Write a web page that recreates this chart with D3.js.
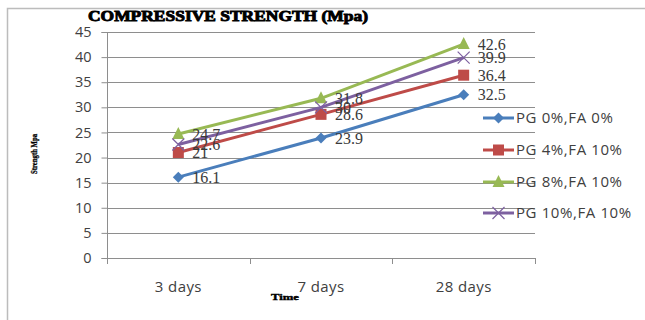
<!DOCTYPE html>
<html><head><meta charset="utf-8">
<script src="https://cdn.jsdelivr.net/npm/d3@7"></script>
<style>body{margin:0;background:#fff}svg{display:block}</style>
</head><body><svg id="c" width="645" height="320"></svg>
<script>
const categories = ["3 days", "7 days", "28 days"];
const seriesNames = ["PG 0%,FA 0%", "PG 4%,FA 10%", "PG 8%,FA 10%", "PG 10%,FA 10%"];
const s1 = [16.1, 23.9, 32.5];
const s2 = [21, 28.6, 36.4];
const s3 = [24.7, 31.8, 42.6];
const s4 = [22.6, 30, 39.9];
const yTicks = [0, 5, 10, 15, 20, 25, 30, 35, 40, 45];
const colors = ["#4a7ebb", "#be4b48", "#98b954", "#7d60a0"];
const shapes = ["diamond", "square", "triangle", "x"];
const seriesValues = [s1, s2, s3, s4];

const svg = d3.select("#c");
const L = 107, R = 535, T = 32, B = 258;
const x = d3.scaleBand().domain(categories).range([L, R]);
const y = d3.scaleLinear().domain([0, 45]).range([B, T]);
const sans = "'Open Sans', Lato, sans-serif";

// outer border
svg.append("path").attr("d", "M7.5,320 V8.5 H645").attr("fill", "none").attr("stroke", "#bcbcbc").attr("stroke-width", 1.5);

// gridlines
svg.append("g").selectAll("line").data(yTicks.filter(d => d > 0)).join("line")
  .attr("x1", L).attr("x2", R).attr("y1", d => Math.round(y(d)) + 0.5).attr("y2", d => Math.round(y(d)) + 0.5)
  .attr("stroke", "#8e8e8e").attr("stroke-width", 1);

// y axis
const ya = svg.append("g").attr("transform", `translate(${L + 0.5},0)`)
  .call(d3.axisLeft(y).tickValues(yTicks).tickSize(6).tickPadding(10));
ya.select(".domain").attr("stroke", "#8e8e8e").attr("d", `M-6,${B + 0.5}H0V${T + 0.5}H-6`);
ya.selectAll(".tick line").attr("stroke", "#8e8e8e");
ya.selectAll(".tick text").attr("font-family", sans).attr("font-size", 14.5).attr("fill", "#404040");

// x axis
const xa = svg.append("g").attr("transform", `translate(0,${B + 0.5})`)
  .call(d3.axisBottom(x).tickSize(0).tickPadding(23));
xa.select(".domain").attr("stroke", "#8e8e8e").attr("d", `M${L},0H${R}`);
xa.selectAll(".tick text").attr("font-family", sans).attr("font-size", 15).attr("letter-spacing", 0.4).attr("fill", "#404040");
const bounds = [L, ...categories.map(c => x(c) + x.bandwidth())];
svg.append("g").selectAll("line").data(bounds).join("line")
  .attr("x1", d => Math.round(d) + 0.5).attr("x2", d => Math.round(d) + 0.5)
  .attr("y1", B).attr("y2", B + 6).attr("stroke", "#8e8e8e");

function marker(g, shape, color, cx, cy, s) {
  if (shape === "diamond") {
    g.append("path").attr("d", `M${cx},${cy - s}L${cx + s},${cy}L${cx},${cy + s}L${cx - s},${cy}Z`).attr("fill", color);
  } else if (shape === "square") {
    g.append("rect").attr("x", cx - s).attr("y", cy - s).attr("width", 2 * s).attr("height", 2 * s).attr("fill", color);
  } else if (shape === "triangle") {
    g.append("path").attr("d", `M${cx},${cy - s - 1}L${cx + s},${cy + s - 1}L${cx - s},${cy + s - 1}Z`).attr("fill", color);
  } else {
    g.append("path").attr("d", `M${cx - s},${cy - s}L${cx + s},${cy + s}M${cx - s},${cy + s}L${cx + s},${cy - s}`)
      .attr("stroke", color).attr("stroke-width", 1.2).attr("fill", "none");
  }
}

const line = d3.line().x((d, i) => x(categories[i]) + x.bandwidth() / 2).y(d => y(d));
const sizes = [5.5, 5.5, 6, 6];
seriesValues.forEach((vals, k) => {
  const g = svg.append("g");
  g.append("path").datum(vals).attr("d", line).attr("fill", "none")
    .attr("stroke", colors[k]).attr("stroke-width", 3);
  vals.forEach((v, i) => marker(g, shapes[k], colors[k], x(categories[i]) + x.bandwidth() / 2, y(v), sizes[k]));
});
// data labels
seriesValues.forEach((vals, k) => {
  svg.append("g").selectAll("text").data(vals).join("text")
    .attr("x", (d, i) => x(categories[i]) + x.bandwidth() / 2 + 14)
    .attr("y", d => y(d)).attr("dy", "0.35em")
    .attr("font-family", "'Liberation Serif', serif").attr("font-size", 16).attr("fill", "#3a3a3a")
    .text(d => d);
});

// legend
const legY = [118, 150, 182, 213];
seriesNames.forEach((n, k) => {
  const g = svg.append("g");
  g.append("line").attr("x1", 483).attr("x2", 514).attr("y1", legY[k]).attr("y2", legY[k])
    .attr("stroke", colors[k]).attr("stroke-width", 3);
  marker(g, shapes[k], colors[k], 498.5, legY[k], sizes[k]);
  g.append("text").attr("x", 516).attr("y", legY[k]).attr("dy", "0.35em")
    .attr("font-family", sans).attr("font-size", 15).attr("letter-spacing", 0.6).attr("fill", "#404040").text(n);
});

// title
svg.append("text").attr("x", 88).attr("y", 21).attr("textLength", 280).attr("lengthAdjust", "spacingAndGlyphs")
  .attr("font-family", "'Liberation Serif', serif").attr("font-weight", "bold").attr("font-size", 15)
  .attr("stroke", "#000").attr("stroke-width", 0.9).text("COMPRESSIVE STRENGTH (Mpa)");
// axis titles
svg.append("text").attr("transform", "translate(37,154) rotate(-90)").attr("text-anchor", "middle")
  .attr("textLength", 40).attr("lengthAdjust", "spacingAndGlyphs")
  .attr("font-family", "'Liberation Serif', serif").attr("font-weight", "bold").attr("font-size", 8)
  .attr("stroke", "#000").attr("stroke-width", 0.3).text("Strength Mpa");
svg.append("text").attr("x", 271).attr("y", 300).attr("textLength", 28).attr("lengthAdjust", "spacingAndGlyphs")
  .attr("font-family", "'Liberation Serif', serif").attr("font-weight", "bold").attr("font-size", 9)
  .attr("stroke", "#000").attr("stroke-width", 0.4).text("Time");
</script></body></html>
